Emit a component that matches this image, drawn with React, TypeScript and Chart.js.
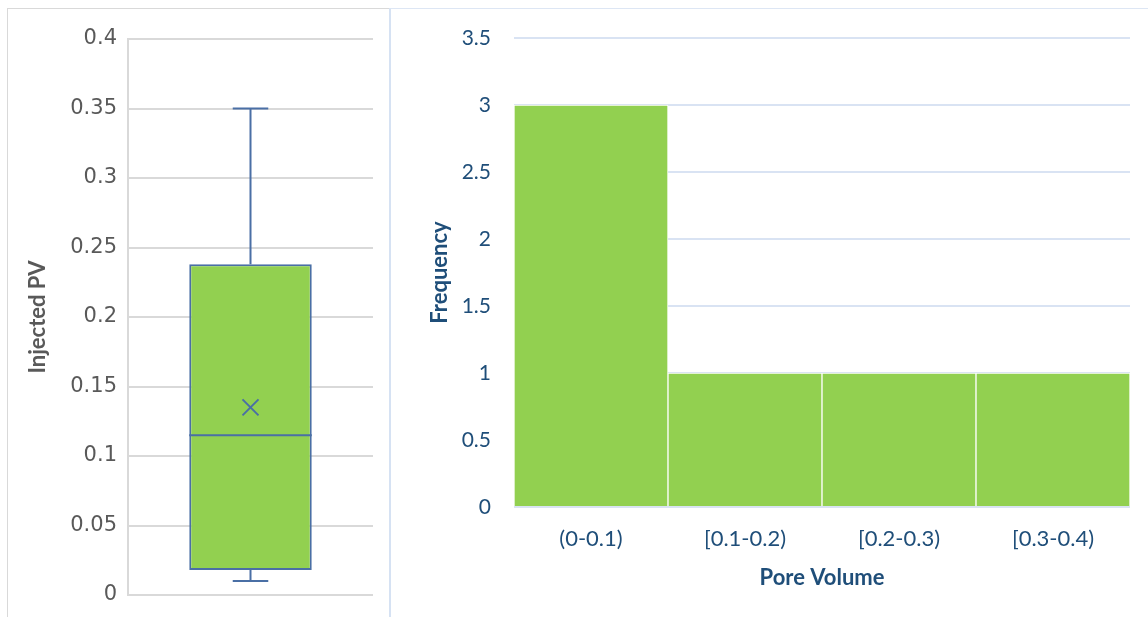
import React, { useEffect, useRef } from "react";
import { Chart, registerables } from "chart.js";

Chart.register(...registerables);

// ---- Box plot data (Injected PV) ----
const boxCategories = ["Injected PV"];
const boxMin = [0.01];
const boxQ1 = [0.018];
const boxMedian = [0.115];
const boxQ3 = [0.238];
const boxMax = [0.35];
const boxMean = [0.135];
const boxTicks = [0, 0.05, 0.1, 0.15, 0.2, 0.25, 0.3, 0.35, 0.4];

// ---- Histogram data ----
const histCategories = ["(0-0.1)", "[0.1-0.2)", "[0.2-0.3)", "[0.3-0.4)"];
const histFrequency = [3, 1, 1, 1];

const GREEN = "#92d050";
const BOX_BLUE = "#4a6fa5";
const GRID_GRAY = "#d9d9d9";
const GRID_BLUE = "#d9e3f3";
const TEXT_GRAY = "#595959";
const TEXT_BLUE = "#1f4e79";

const boxPlugin = {
  id: "boxWhiskers",
  afterDatasetsDraw(chart: any) {
    const meta = chart.getDatasetMeta(0);
    const y = chart.scales.y;
    const ctx = chart.ctx;
    meta.data.forEach((bar: any, i: number) => {
      const cx = bar.x;
      const half = bar.width / 2;
      const capHalf = bar.width * 0.145;
      const pMin = y.getPixelForValue(boxMin[i]);
      const pQ1 = y.getPixelForValue(boxQ1[i]);
      const pQ3 = y.getPixelForValue(boxQ3[i]);
      const pMax = y.getPixelForValue(boxMax[i]);
      const pMed = y.getPixelForValue(boxMedian[i]);
      const pMean = y.getPixelForValue(boxMean[i]);
      const r = 8;
      ctx.save();
      ctx.strokeStyle = BOX_BLUE;
      ctx.lineWidth = 2;
      ctx.beginPath();
      ctx.moveTo(cx, pQ3);
      ctx.lineTo(cx, pMax);
      ctx.moveTo(cx - capHalf, pMax);
      ctx.lineTo(cx + capHalf, pMax);
      ctx.moveTo(cx, pQ1);
      ctx.lineTo(cx, pMin);
      ctx.moveTo(cx - capHalf, pMin);
      ctx.lineTo(cx + capHalf, pMin);
      ctx.moveTo(cx - half, pMed);
      ctx.lineTo(cx + half, pMed);
      // mean marker (x)
      ctx.moveTo(cx - r, pMean - r);
      ctx.lineTo(cx + r, pMean + r);
      ctx.moveTo(cx + r, pMean - r);
      ctx.lineTo(cx - r, pMean + r);
      ctx.stroke();
      ctx.restore();
    });
  },
};

function BoxChart() {
  const ref = useRef<HTMLCanvasElement>(null);
  useEffect(() => {
    const chart = new Chart(ref.current!, {
      type: "bar",
      data: {
        labels: boxCategories,
        datasets: [
          {
            type: "bar",
            data: boxCategories.map((_, i) => [boxQ1[i], boxQ3[i]]) as any,
            backgroundColor: GREEN,
            borderColor: BOX_BLUE,
            borderWidth: 2,
            borderSkipped: false,
            barPercentage: 0.5,
            categoryPercentage: 1,
          },
        ],
      },
      options: {
        animation: false,
        responsive: false,
        maintainAspectRatio: false,
        layout: { padding: { top: 31, right: 17, bottom: 22, left: 0 } },
        plugins: { legend: { display: false }, tooltip: { enabled: false } },
        scales: {
          x: {
            type: "category",
            display: false,
          },
          y: {
            min: 0,
            max: 0.4,
            afterBuildTicks: (s: any) => {
              s.ticks = boxTicks.map((v) => ({ value: v }));
            },
            afterFit: (s: any) => {
              s.width = 120;
              s.paddingTop = 0;
              s.paddingBottom = 0;
            },
            grid: { color: GRID_GRAY, lineWidth: 2, drawTicks: false },
            border: { display: true, color: GRID_GRAY, width: 2 },
            ticks: {
              color: TEXT_GRAY,
              padding: 11,
              font: { family: "DejaVu Sans", size: 21 },
              callback: (v: any) => String(v),
            },
            title: {
              display: true,
              text: "Injected PV",
              color: TEXT_GRAY,
              font: { family: "Lato", size: 22, weight: "bold" },
              padding: { top: 17, bottom: 0 },
            },
          },
        },
      },
      plugins: [boxPlugin],
    } as any);
    return () => chart.destroy();
  }, []);
  return <canvas ref={ref} width={382} height={609} style={{ display: "block" }} />;
}

function HistChart() {
  const ref = useRef<HTMLCanvasElement>(null);
  useEffect(() => {
    const chart = new Chart(ref.current!, {
      type: "bar",
      data: {
        labels: histCategories,
        datasets: [
          {
            data: histFrequency,
            backgroundColor: GREEN,
            borderColor: "#ffffff",
            borderWidth: { left: 1, right: 1, top: 1, bottom: 0 },
            borderSkipped: false,
            barPercentage: 1,
            categoryPercentage: 1,
          },
        ],
      },
      options: {
        animation: false,
        responsive: false,
        maintainAspectRatio: false,
        layout: { padding: { top: 29, right: 18, bottom: 0, left: 0 } },
        plugins: { legend: { display: false }, tooltip: { enabled: false } },
        scales: {
          x: {
            afterFit: (s: any) => {
              s.height = 110;
            },
            grid: { display: false },
            border: { display: false },
            ticks: {
              color: TEXT_BLUE,
              padding: 11,
              font: { family: "Lato", size: 22 },
            },
            title: {
              display: true,
              text: "Pore Volume",
              color: TEXT_BLUE,
              font: { family: "Lato", size: 22, weight: "bold" },
              padding: { top: 0, bottom: 26 },
            },
          },
          y: {
            min: 0,
            max: 3.5,
            afterFit: (s: any) => {
              s.width = 123;
              s.paddingTop = 0;
              s.paddingBottom = 0;
            },
            ticks: {
              stepSize: 0.5,
              color: TEXT_BLUE,
              padding: 23,
              font: { family: "Lato", size: 21 },
              callback: (v: any) => String(v),
            },
            grid: { color: GRID_BLUE, lineWidth: 2, drawTicks: false },
            border: { display: false },
            title: {
              display: true,
              text: "Frequency",
              color: TEXT_BLUE,
              font: { family: "Lato", size: 22, weight: "bold" },
              padding: { top: 36, bottom: 0 },
            },
          },
        },
      },
    } as any);
    return () => chart.destroy();
  }, []);
  return <canvas ref={ref} width={757} height={608} style={{ display: "block" }} />;
}

export default function App() {
  return (
    <div style={{ position: "absolute", left: 0, top: 0, width: 1148, height: 617, overflow: "hidden", background: "#fff" }}>
      <div
        style={{
          position: "absolute",
          left: 7,
          top: 8,
          width: 383,
          height: 620,
          borderLeft: "1px solid #d9d9d9",
          borderTop: "1px solid #d9d9d9",
          boxSizing: "border-box",
        }}
      />
      <div
        style={{
          position: "absolute",
          left: 389,
          top: 8,
          width: 770,
          height: 620,
          borderLeft: "2px solid #d6e2f3",
          borderTop: "1px solid #dde6f4",
          boxSizing: "border-box",
        }}
      />
      <div style={{ position: "absolute", left: 8, top: 8 }}>
        <BoxChart />
      </div>
      <div style={{ position: "absolute", left: 391, top: 9 }}>
        <HistChart />
      </div>
    </div>
  );
}
